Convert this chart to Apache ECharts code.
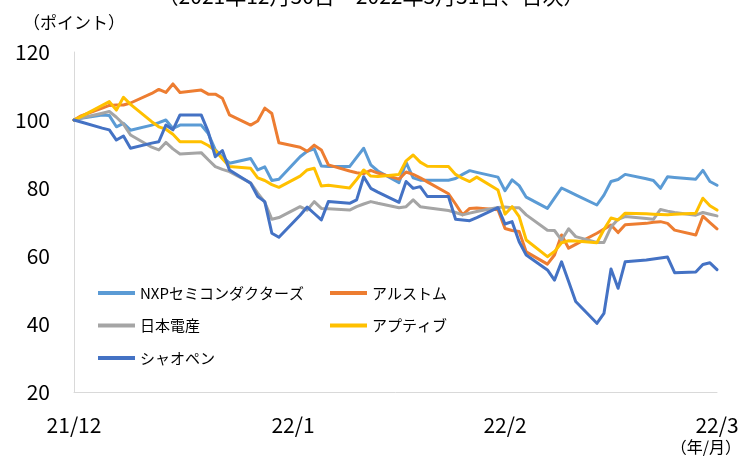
<!DOCTYPE html>
<html>
<head>
<meta charset="utf-8">
<script src="https://cdn.jsdelivr.net/npm/echarts@6/dist/echarts.min.js"></script>
<style>
  html, body { margin: 0; padding: 0; background: #fff; }
  #chart { width: 742px; height: 460px; }
</style>
</head>
<body>
<div id="chart"></div>
<script>
// x軸のラベル（カレンダー日の位置）
const tickIdx = [0, 31, 61, 91];
const tickText = ["21/12", "22/1", "22/2", "22/3"];

const seriesNames = ["NXPセミコンダクターズ", "アルストム", "日本電産", "アプティブ", "シャオペン"];
const colors = ["#5B9BD5", "#ED7D31", "#A5A5A5", "#FFC000", "#4472C4"];

// 営業日ごとの値（2021/12/30=100）
const nxp = [
  100, 100.5, 101.5, 101.3, 98.0, 99.0, 97.0,
  98.5, 99.2, 100.0, 97.5, 98.5,
  98.5, 96.0, 91.2, 89.2, 87.3,
  88.7, 85.3, 86.2, 82.2, 82.6,
  89.2, 90.8, 91.5, 86.5, 86.3,
  86.3, 89.0, 91.7, 86.8, 85.0,
  81.6, 87.5, 83.0, 82.3, 82.3,
  82.3, 82.8, 84.0, 85.1, 84.6,
  83.2, 79.2, 82.4, 80.7, 77.3,
  74.0, 77.0, 80.0, 79.0, 78.0,
  75.0, 77.9, 81.9, 82.5, 84.0,
  82.7, 82.2, 79.9, 83.3, 83.1,
  82.6, 85.2, 81.9, 80.8
];
const alstom = [
  100, 101.2, 103.5, 104.3, 104.4, 104.4, 105.0,
  107.8, 109.0, 108.1, 110.6, 108.1,
  108.8, 107.6, 107.6, 106.4, 101.5,
  98.5, 99.7, 103.5, 101.9, 93.3,
  92.0, 90.8, 92.6, 91.2, 86.8,
  85.0, 84.5, 84.2, 85.2, 84.4,
  82.6, 84.7, 84.0, 83.0, 81.8,
  78.3, 75.3, 72.1, 74.0, 74.1,
  73.6, 68.1, 67.5, 67.2, 61.2,
  57.6, 60.3, 66.2, 62.3, 63.4,
  66.7, 67.9, 69.1, 66.9, 69.2,
  69.6, 69.9, 70.1, 69.6, 67.6,
  66.2, 71.7, 69.8, 68.0
];
const nidec = [
  100, 100.6, 102.0, 102.5, 100.8, 98.8, 95.6,
  92.0, 91.2, 93.4, 91.5, 90.0,
  90.4, 88.3, 86.3, 85.5, 84.8,
  81.5, 78.5, 75.8, 70.8, 71.3,
  74.5, 73.5, 76.0, 74.0, 73.9,
  73.5, 74.5, 75.3, 76.0, 75.5,
  74.2, 74.5, 76.5, 74.5, 74.2,
  73.4, 72.8, 72.1, 72.6, 73.1,
  74.3, 74.4, 74.2, 74.2, 72.1,
  67.6, 67.5, 64.7, 68.0, 65.7,
  64.0, 64.0, 68.5, 70.8, 71.6,
  71.0, 70.8, 73.7, 73.2, 72.8,
  72.0, 72.8, 72.3, 71.8
];
const aptiv = [
  100, 101.0, 104.3, 105.4, 102.9, 106.7, 104.6,
  99.5, 98.0, 97.3, 95.8, 93.6,
  93.6, 92.5, 91.0, 88.6, 86.3,
  85.8, 83.0, 82.2, 81.0, 80.2,
  83.5, 85.3, 85.8, 80.6, 80.8,
  80.0, 82.5, 85.3, 83.5, 83.4,
  84.0, 88.0, 89.7, 87.6, 86.4,
  86.3, 84.0, 82.8, 81.9, 83.2,
  79.4, 72.3, 74.5, 71.6, 64.7,
  59.8, 61.3, 63.9, 64.5, 64.4,
  63.9, 67.8, 71.2, 70.6, 72.6,
  72.4, 72.3, 72.2, 72.1, 72.3,
  72.6, 77.0, 74.8, 73.5
];
const xpeng = [
  100, 99.4, 97.6, 97.1, 94.1, 95.3, 91.7,
  93.2, 93.6, 98.5, 97.1, 101.5,
  101.5, 96.5, 89.2, 91.0, 85.3,
  81.4, 77.5, 76.0, 66.7, 65.5,
  72.0, 74.4, 72.5, 70.6, 76.0,
  75.5, 76.5, 83.3, 79.9, 78.8,
  75.8, 81.9, 79.9, 80.4, 77.5,
  77.5, 70.8, 70.6, 70.4, 71.3,
  74.2, 69.4, 70.1, 64.2, 60.3,
  55.9, 52.9, 58.3, 52.5, 46.6,
  40.2, 43.1, 56.2, 50.5, 58.3,
  58.8, 59.1, 59.4, 59.7, 55.1,
  55.3, 57.5, 58.0, 56.0
];

// カレンダー日と営業日（土日を除く）
const days = [];
const tradeDays = [];
for (let d = new Date(Date.UTC(2021, 11, 30)); d <= new Date(Date.UTC(2022, 2, 31)); d.setUTCDate(d.getUTCDate() + 1)) {
  const s = d.toISOString().slice(0, 10);
  days.push(s);
  const wd = d.getUTCDay();
  if (wd !== 0 && wd !== 6) tradeDays.push(s);
}

const allData = [nxp, alstom, nidec, aptiv, xpeng];

const chart = echarts.init(document.getElementById("chart"));

const font = "'Noto Sans CJK JP', 'Noto Sans', sans-serif";

chart.setOption({
  animation: false,
  textStyle: { fontFamily: font },
  title: {
    text: "（2021年12月30日～2022年3月31日、日次）",
    left: "center",
    top: -19,
    textStyle: { fontSize: 21, fontWeight: "normal", color: "#000", fontFamily: font },
  },
  grid: {
    left: 74,
    right: 25,
    top: 52,
    bottom: 68,
  },
  legend: [
    {
      data: [seriesNames[0], seriesNames[2], seriesNames[4]],
      orient: "vertical",
      left: 98,
      top: 283,
      padding: 0,
      icon: "rect",
      itemWidth: 37,
      itemHeight: 4,
      itemGap: 12.5,
      textStyle: { fontSize: 15, color: "#000", lineHeight: 20, fontFamily: font },
    },
    {
      data: [seriesNames[1], seriesNames[3]],
      orient: "vertical",
      left: 330,
      top: 283,
      padding: 0,
      icon: "rect",
      itemWidth: 37,
      itemHeight: 4,
      itemGap: 12.5,
      textStyle: { fontSize: 15, color: "#000", lineHeight: 20, fontFamily: font },
    },
  ],
  xAxis: {
    type: "category",
    data: days,
    boundaryGap: false,
    axisLine: { lineStyle: { color: "#D9D9D9", width: 1 } },
    axisTick: { show: false },
    axisLabel: {
      interval: (idx) => tickIdx.indexOf(idx) >= 0,
      formatter: (val, idx) => tickText[tickIdx.indexOf(idx)],
      fontSize: 21,
      color: "#000",
      margin: 23,
      fontFamily: font,
    },
    splitLine: { show: false },
  },
  yAxis: {
    type: "value",
    min: 20,
    max: 120,
    interval: 20,
    name: "（ポイント）",
    nameLocation: "end",
    nameGap: 21,
    nameTextStyle: { fontSize: 17, color: "#000", align: "center", fontFamily: font },
    axisLine: { show: true, lineStyle: { color: "#D9D9D9", width: 1 } },
    axisTick: { show: false },
    axisLabel: { fontSize: 21, color: "#000", margin: 24, fontFamily: font },
    splitLine: { show: false },
  },
  graphic: [
    {
      type: "text",
      right: 1,
      top: 439,
      style: { text: "（年/月）", fontSize: 16, fill: "#000", fontFamily: font },
    },
  ],
  series: seriesNames.map((name, k) => ({
    name: name,
    type: "line",
    symbol: "none",
    color: colors[k],
    lineStyle: { width: 3, join: "round", cap: "round" },
    data: tradeDays.map((d, i) => [d, allData[k][i]]),
  })),
});
</script>
</body>
</html>
